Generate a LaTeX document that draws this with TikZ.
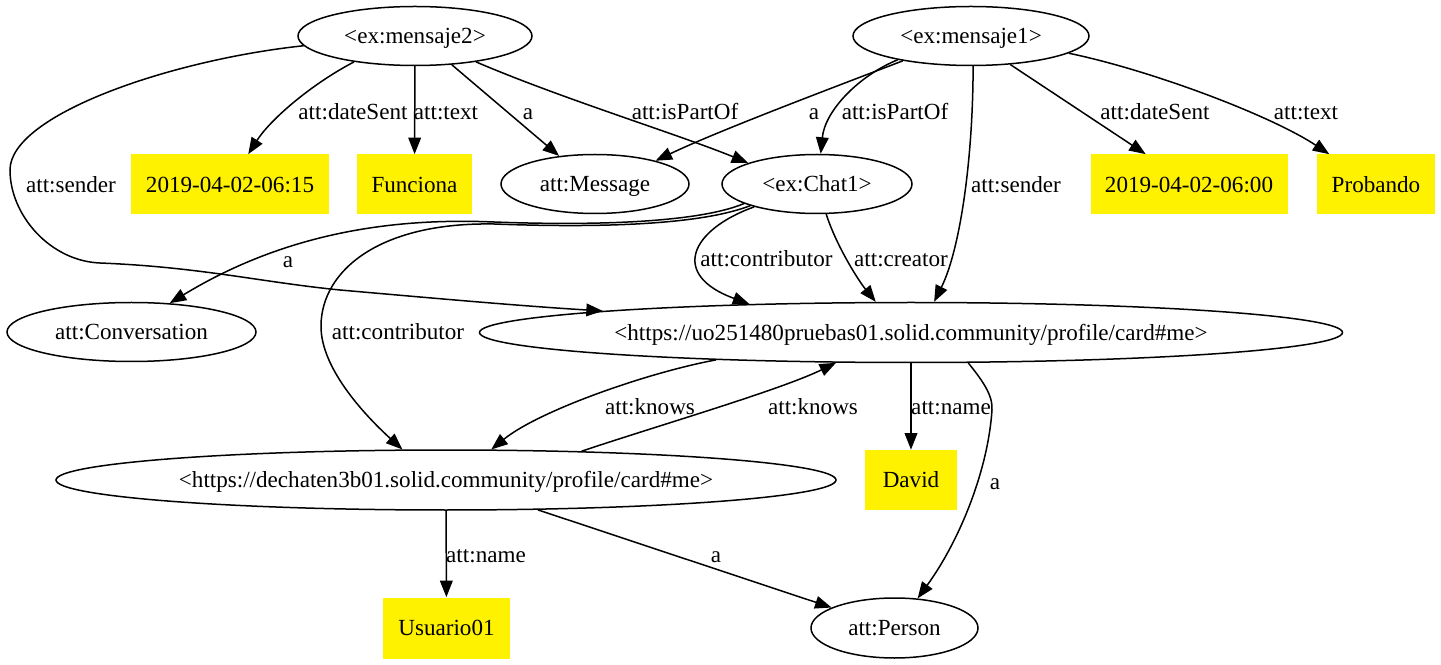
\documentclass[tikz,border=0pt]{standalone}
\usepackage{fontspec}
\setmainfont{Liberation Serif}
\usetikzlibrary{shapes.geometric,arrows.meta}
\begin{document}
\begin{tikzpicture}[x=0.6pt,y=-0.6pt,
  every node/.style={font=\fontsize{13.86}{16}\selectfont, text height=9.15pt, text depth=0pt, inner sep=0pt},
  ell/.style n args={2}{ellipse, draw, line width=0.9pt, minimum width=#1*0.6pt, minimum height=#2*0.6pt},
  lit/.style n args={2}{rectangle, fill=yellow, minimum width=#1*0.6pt, minimum height=#2*0.6pt},
  edge/.style={draw, line width=0.9pt, -{Triangle[length=9.9pt,width=7.6pt]}}
]
\useasboundingbox (0,0) rectangle (1441,665);
% nodes
\node[ell={234}{59}] (m2) at (415,36) {<ex:mensaje2>};
\node[ell={236}{59}] (m1) at (971,36) {<ex:mensaje1>};
\node[lit={198}{60}] (d1) at (230,184.5) {2019-04-02-06:15};
\node[lit={115}{60}] (fun) at (414.5,184.5) {Funciona};
\node[ell={188}{59}] (msg) at (595,184) {att:Message};
\node[ell={190}{59}] (chat) at (817,184) {<ex:Chat1>};
\node[lit={197}{60}] (d2) at (1189,184.5) {2019-04-02-06:00};
\node[lit={118}{60}] (prob) at (1376,184.5) {Probando};
\node[ell={249}{59}] (conv) at (131.5,332) {att:Conversation};
\node[ell={863}{60}] (uo) at (911,332.5) {<https://uo251480pruebas01.solid.community/profile/card\#me>};
\node[ell={780}{60}] (dech) at (446,480) {<https://dechaten3b01.solid.community/profile/card\#me>};
\node[lit={92}{60}] (david) at (911,480) {David};
\node[lit={127}{61}] (usu) at (446.5,628) {Usuario01};
\node[ell={167}{60}] (person) at (894.5,628) {att:Person};
% edges
\draw[edge] (m2.203) .. controls (310,85) and (270,120) .. (d1.59);
\draw[edge] (m2) -- (fun);
\draw[edge] (m2.-38) -- (msg.142);
\draw[edge] (m2.-23) .. controls (560,98) and (680,135) .. (chat.163);
\draw[edge] (m1.200) .. controls (840,85) and (720,130) .. (msg.21);
\draw[edge] (m1.198) .. controls (860,75) and (825,110) .. (chat.83);
\draw[edge] (m1.-36) -- (d2.145);
\draw[edge] (m1.-10) .. controls (1150,70) and (1270,115) .. (prob.147);
\draw[edge] (m1.-86) .. controls (973,160) and (960,250) .. (uo.53);
\draw[edge] (m2.185) .. controls (170,60) and (10,115) .. (10,170) .. controls (10,215) and (50,261) .. (100,263) .. controls (200,267) and (260,282) .. (340,290) .. controls (420,297) and (520,306) .. (uo.176);
\draw[edge] (chat.195) .. controls (700,222) and (600,226) .. (494,222) .. controls (400,218) and (290,230) .. (conv.37);
\draw[edge] (chat.198) .. controls (700,225) and (600,228) .. (494,224) .. controls (380,222) and (322,270) .. (321,325) .. controls (320,370) and (370,420) .. (dech.145);
\draw[edge] (chat.200) .. controls (690,230) and (670,275) .. (uo.170);
\draw[edge] (chat.-73) .. controls (836,245) and (858,280) .. (uo.139);
\draw[edge] (uo.188) .. controls (650,372) and (540,410) .. (dech.34);
\draw[edge] (dech.12) .. controls (660,425) and (780,390) .. (uo.-158);
\draw[edge] (uo) -- (david);
\draw[edge] (uo.-28) .. controls (982,380) and (993,395) .. (992,410) .. controls (988,470) and (960,540) .. (person.52);
\draw[edge] (dech) -- (usu);
\draw[edge] (dech.-18) -- (person.162);
% labels
\node (l1) at (353,112) {att:dateSent};
\node (l2) at (446,112) {att:text};
\node (l3) at (528,112) {a};
\node (l4) at (685,112) {att:isPartOf};
\node (l5) at (814,112) {a};
\node (l6) at (895,112) {att:isPartOf};
\node (l7) at (1155,112) {att:dateSent};
\node (l8) at (1306,112) {att:text};
\node (l9) at (71,185) {att:sender};
\node (l10) at (1016,185) {att:sender};
\node (l11) at (288,260) {a};
\node (l12) at (766.5,259) {att:contributor};
\node (l13) at (901,259) {att:creator};
\node (l14) at (398,332) {att:contributor};
\node (l15) at (650,407) {att:knows};
\node (l16) at (813,407) {att:knows};
\node (l17) at (951,407) {att:name};
\node (l18) at (995,482) {a};
\node (l19) at (486,555) {att:name};
\node (l20) at (716,555) {a};
\end{tikzpicture}
\end{document}
